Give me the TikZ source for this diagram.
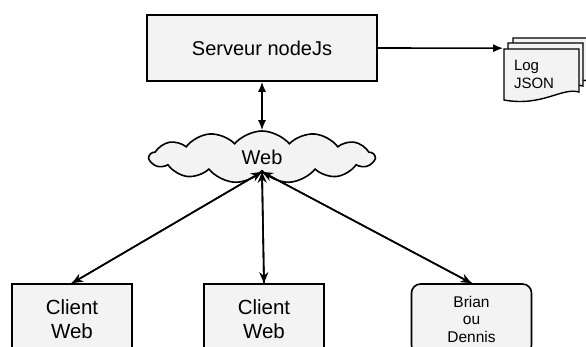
\documentclass[tikz,border=0pt]{standalone}
\usepackage{fontspec}
\setmainfont{Liberation Sans}
\usetikzlibrary{shapes.symbols,arrows.meta}
\definecolor{boxfill}{HTML}{F3F3F3}

\begin{document}
\begin{tikzpicture}[x=1pt,y=-1pt,line width=1.6pt,
    box/.style={draw,fill=boxfill,minimum width=120pt,minimum height=70pt,align=center,font=\fontsize{20.5}{24}\selectfont},
    sheet/.style={draw,fill=boxfill,line width=1.4pt},
    tip/.style={-{Stealth[length=11pt,width=9pt]}},
    both/.style={{Latex[length=10pt,width=8pt]}-{Latex[length=10pt,width=8pt]}}]
      \clip (0,0) rectangle (586,347);
      \node[draw,fill=boxfill,minimum width=230pt,minimum height=66pt,font=\fontsize{20}{24}\selectfont] %
      (serveur) at (262,48) {Serveur nodeJs};
      \node[cloud,cloud puffs=13,cloud puff arc=100,aspect=4.2,draw,fill=boxfill,inner sep=0pt, %
      minimum width=225pt,minimum height=52pt,font=\fontsize{20}{24}\selectfont] (web) at (262,157) {Web};
      % log JSON
      \foreach \dx/\dy in {9/11,4/6,0/0}
      \draw[sheet,shift={(504+\dx,49-\dy)}] (0,0) -- (75,0) -- (75,43) %
      .. controls (58,38) and (38,58) .. (0,51) -- cycle;
      \node[minimum width=75pt,minimum height=51pt,inner xsep=10pt,text width=55pt,align=left, %
      font=\fontsize{15}{18}\selectfont] (log) at (541.5,74.5) {Log\\JSON};
      % clients
      \node[box] (clientA) at (72,319) {Client\\Web};
      \node[box] (clientB) at (264,319) {Client\\Web};
      \node[box,rounded corners=9pt,font=\fontsize{15.5}{17.5}\selectfont] (brian) at (471.5,319) {Brian\\ou\\Dennis};
      \draw[both] (serveur) -- (web);
      \draw[-{Latex[length=10pt,width=8pt]}] (serveur.east) -- (log.north west);
      \draw[tip] (web.south) -- (clientA.north);
      \draw[tip] (web.south) -- (clientB.north);
      \draw[tip] (web.south) -- (brian.north);
      \draw[tip] (clientA.north) -- (web.south);
      \draw[tip] (clientB.north) -- (web.south);
      \draw[tip] (brian.north) -- (web.south);
\end{tikzpicture}
\end{document}
